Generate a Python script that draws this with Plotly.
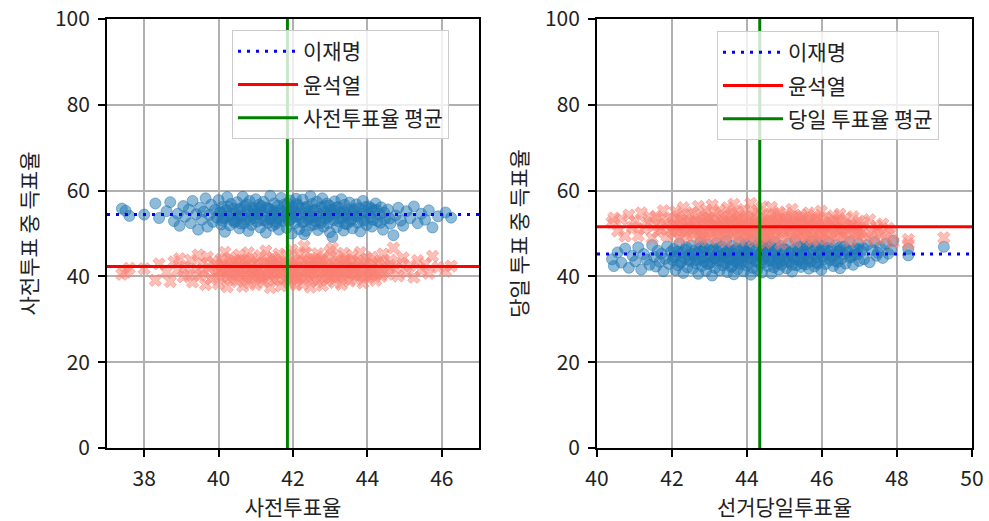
import plotly.graph_objects as go

# ---- early voting (사전투표) : turnout, share for each candidate, per district ----
pre_points = [
    (37.4, 55.8, 40.5), (37.5, 55.3, 41.0), (37.6, 54.1, 41.9),
    (38.0, 54.4, 41.8), (38.3, 57.0, 39.1), (38.4, 53.6, 42.9),
    (38.6, 55.2, 41.0), (38.7, 57.3, 38.8), (38.8, 52.9, 43.4), (38.9, 54.6, 41.5), (38.95, 51.8, 44.1),
    (39.05, 56.4, 39.9), (39.1, 53.9, 42.2), (39.2, 55.6, 40.4), (39.25, 52.4, 43.8), (39.3, 57.6, 38.7),
    (39.4, 54.5, 41.6), (39.45, 50.9, 45.0),
    (39.5, 56.0, 40.2), (39.55, 53.2, 43.0), (39.6, 55.1, 41.0), (39.65, 58.2, 38.1), (39.7, 51.6, 44.5),
    (39.75, 54.3, 41.9), (39.8, 56.7, 39.4), (39.85, 52.7, 43.4), (39.9, 55.5, 40.7), (39.95, 53.7, 42.6),
    (40.0, 57.8, 38.3), (40.03, 54.9, 41.3), (40.07, 52.1, 44.0), (40.1, 56.2, 40.0), (40.13, 53.5, 42.6),
    (40.17, 50.4, 45.6), (40.2, 55.4, 40.8), (40.23, 58.5, 37.6), (40.27, 54.0, 42.1), (40.3, 51.9, 44.3),
    (40.33, 56.9, 39.3), (40.37, 53.1, 43.0), (40.4, 55.8, 40.3), (40.43, 52.6, 43.6), (40.47, 54.6, 41.5),
    (40.5, 57.3, 38.8), (40.53, 53.8, 42.4), (40.56, 51.2, 45.0), (40.59, 55.9, 40.2), (40.62, 54.2, 41.8),
    (40.65, 58.6, 37.7), (40.68, 52.4, 43.7), (40.71, 56.4, 39.7), (40.74, 53.3, 42.9), (40.77, 55.2, 40.9),
    (40.8, 50.6, 45.5), (40.83, 57.6, 38.5), (40.86, 54.7, 41.4), (40.89, 52.0, 44.2), (40.92, 56.0, 40.1),
    (40.95, 53.6, 42.5), (40.98, 55.5, 40.7),
    (41.0, 58.0, 38.1), (41.03, 52.8, 43.3), (41.06, 54.4, 41.7), (41.09, 56.7, 39.4), (41.12, 51.4, 44.8),
    (41.15, 55.0, 41.1), (41.18, 53.1, 43.0), (41.21, 57.4, 38.7), (41.24, 54.0, 42.2), (41.27, 50.2, 45.9),
    (41.3, 56.1, 40.0), (41.33, 52.5, 43.6), (41.36, 55.6, 40.5), (41.39, 58.8, 37.4), (41.42, 53.7, 42.4),
    (41.45, 51.8, 44.4), (41.48, 55.3, 40.8), (41.49, 54.6, 41.5),
    (41.5, 57.0, 39.1), (41.53, 52.2, 43.9), (41.56, 54.9, 41.2), (41.59, 56.5, 39.6), (41.62, 50.9, 45.2),
    (41.65, 53.4, 42.7), (41.68, 58.3, 37.8), (41.71, 55.1, 41.0), (41.74, 52.9, 43.2), (41.77, 56.8, 39.3),
    (41.8, 54.2, 41.9), (41.83, 51.3, 44.9), (41.86, 55.8, 40.3), (41.89, 53.0, 43.1), (41.92, 57.7, 38.4),
    (41.95, 54.5, 41.6), (41.97, 50.0, 46.1), (41.99, 56.2, 39.9), (41.99, 53.8, 42.3),
    (42.02, 55.4, 40.7), (42.05, 52.4, 43.7), (42.08, 58.1, 38.0), (42.11, 54.0, 42.1), (42.14, 56.6, 39.5),
    (42.17, 51.0, 45.1), (42.2, 53.6, 42.5), (42.23, 55.9, 40.2), (42.26, 57.9, 38.2), (42.29, 52.7, 43.4),
    (42.32, 54.8, 41.3), (42.35, 50.6, 45.5), (42.38, 56.3, 39.8), (42.41, 53.2, 42.9), (42.44, 55.2, 40.9),
    (42.47, 58.7, 37.5), (42.49, 51.9, 44.2), (42.3, 49.8, 47.0), (42.45, 54.3, 41.8),
    (42.52, 56.9, 39.2), (42.55, 53.9, 42.2), (42.58, 52.1, 44.0), (42.61, 55.6, 40.5), (42.64, 57.4, 38.7),
    (42.67, 50.8, 45.3), (42.7, 54.6, 41.5), (42.73, 53.0, 43.1), (42.76, 56.1, 40.0), (42.79, 58.2, 37.9),
    (42.82, 51.6, 44.5), (42.85, 55.0, 41.1), (42.88, 53.5, 42.6), (42.91, 57.0, 39.1), (42.94, 52.4, 43.7),
    (42.96, 54.2, 41.9), (42.98, 56.5, 39.6), (42.99, 50.3, 45.8),
    (43.02, 55.5, 40.6), (43.06, 49.2, 46.6), (43.09, 53.1, 43.0), (43.12, 57.5, 38.6), (43.15, 54.4, 41.7),
    (43.18, 51.5, 44.6), (43.21, 56.2, 39.9), (43.24, 52.8, 43.3), (43.27, 55.0, 41.1), (43.3, 58.0, 38.1),
    (43.33, 53.7, 42.4), (43.36, 50.7, 45.4), (43.39, 56.7, 39.4), (43.42, 54.8, 41.3), (43.45, 52.2, 43.9),
    (43.48, 55.7, 40.4),
    (43.52, 57.2, 38.9), (43.56, 53.3, 42.8), (43.6, 51.2, 44.9), (43.63, 55.3, 40.8), (43.67, 54.1, 42.0),
    (43.7, 56.8, 39.3), (43.74, 52.5, 43.6), (43.78, 55.9, 40.2), (43.81, 50.5, 45.6), (43.85, 54.6, 41.5),
    (43.88, 57.6, 38.5), (43.92, 53.0, 43.1), (43.95, 55.1, 41.0), (43.98, 52.0, 44.1),
    (44.03, 56.3, 39.8), (44.08, 53.8, 42.3), (44.12, 51.6, 44.5), (44.17, 55.4, 40.7), (44.22, 57.0, 39.1),
    (44.27, 52.9, 43.2), (44.32, 54.5, 41.6), (44.37, 56.1, 40.0), (44.42, 50.9, 45.2), (44.47, 53.4, 42.7),
    (44.55, 55.6, 40.5), (44.62, 52.3, 43.8), (44.7, 49.6, 46.6), (44.76, 54.2, 41.9), (44.83, 56.0, 40.1),
    (44.9, 53.0, 43.1), (44.96, 51.8, 44.3),
    (45.05, 55.2, 40.9), (45.15, 53.6, 42.5), (45.25, 56.3, 39.8), (45.35, 52.4, 43.7), (45.45, 54.6, 41.5),
    (45.55, 53.2, 42.9), (45.65, 55.4, 40.7), (45.75, 51.4, 44.7), (45.9, 54.0, 42.1),
    (46.1, 54.9, 41.2), (46.25, 53.7, 42.4),
    (40.05, 55.0, 41.2), (40.15, 53.8, 42.4), (40.25, 56.3, 39.9), (40.35, 54.5, 41.6), (40.45, 52.9, 43.2),
    (40.55, 55.6, 40.5), (40.65, 54.0, 42.1), (40.75, 56.8, 39.3), (40.85, 53.2, 42.9), (40.95, 55.2, 40.9),
    (41.05, 54.7, 41.4), (41.15, 56.4, 39.7), (41.25, 53.0, 43.1), (41.35, 55.8, 40.3), (41.45, 54.2, 41.9),
    (41.55, 52.7, 43.4), (41.65, 55.5, 40.6), (41.75, 54.0, 42.1), (41.85, 56.9, 39.2), (41.95, 53.4, 42.7),
    (42.05, 55.1, 41.0), (42.15, 54.4, 41.7), (42.25, 52.6, 43.5), (42.35, 56.0, 40.1), (42.45, 53.7, 42.4),
    (42.55, 55.3, 40.8), (42.65, 54.0, 42.1), (42.75, 52.5, 43.6), (42.85, 56.4, 39.7), (42.95, 53.9, 42.2),
    (43.05, 54.8, 41.3), (43.15, 56.0, 40.1), (43.25, 53.5, 42.6), (43.35, 55.2, 40.9), (43.45, 54.2, 41.9),
    (43.55, 52.9, 43.2), (43.65, 55.7, 40.4), (43.75, 54.0, 42.1), (43.85, 53.1, 43.0), (43.95, 56.2, 39.9),
    (44.05, 54.6, 41.5), (44.15, 53.2, 42.9), (44.25, 55.5, 40.6), (44.35, 52.5, 43.6), (44.45, 54.9, 41.2),
    (40.1, 53.0, 43.1), (40.6, 52.3, 43.8), (41.1, 55.9, 40.2), (41.6, 53.6, 42.5), (42.1, 56.9, 39.2),
    (42.6, 52.9, 43.2), (43.1, 55.4, 40.7), (43.6, 54.5, 41.6), (44.1, 55.9, 40.2), (44.6, 53.5, 42.6),
    (41.4, 53.3, 42.8), (42.9, 54.6, 41.5), (43.4, 52.3, 43.8), (41.9, 55.0, 41.1), (40.9, 54.3, 41.8),
]

# ---- election day (선거당일) : turnout, share for each candidate, per district ----
day_points = [
    (40.4, 44.0, 52.6), (40.45, 42.4, 53.6),
    (40.55, 45.6, 50.6), (40.65, 43.2, 53.3), (40.75, 46.5, 49.4), (40.85, 42.0, 54.3), (40.95, 44.8, 51.5),
    (41.02, 43.5, 52.9), (41.1, 46.8, 49.5), (41.18, 41.6, 54.8), (41.25, 45.2, 51.1), (41.32, 43.9, 52.5),
    (41.4, 42.7, 53.8), (41.47, 47.3, 48.9),
    (41.52, 44.6, 51.8), (41.57, 42.3, 54.0), (41.62, 46.0, 50.4), (41.67, 43.4, 53.1), (41.72, 45.3, 51.0),
    (41.77, 41.2, 55.3), (41.82, 44.1, 52.2), (41.87, 47.0, 49.4), (41.92, 42.9, 53.5), (41.97, 45.7, 50.7),
    (42.02, 43.8, 52.6), (42.05, 46.4, 50.0), (42.09, 41.5, 55.1), (42.12, 44.9, 51.5), (42.16, 42.6, 53.9),
    (42.2, 47.6, 48.8), (42.23, 43.2, 53.3), (42.27, 45.6, 50.8), (42.3, 40.8, 56.0), (42.34, 44.3, 52.1),
    (42.38, 46.8, 49.6), (42.41, 42.1, 54.4), (42.45, 45.0, 51.4), (42.48, 43.6, 52.8),
    (42.52, 47.2, 49.2), (42.55, 41.8, 54.9), (42.58, 44.7, 51.8), (42.61, 46.1, 50.3), (42.64, 43.0, 53.6),
    (42.67, 45.4, 51.0), (42.7, 40.6, 56.3), (42.73, 44.0, 52.5), (42.76, 48.0, 48.4), (42.79, 42.4, 54.2),
    (42.82, 45.8, 50.6), (42.85, 43.5, 53.0), (42.88, 46.6, 49.8), (42.91, 41.3, 55.5), (42.94, 44.5, 52.0),
    (42.97, 47.4, 49.0), (42.99, 42.9, 53.6),
    (43.02, 45.1, 51.4), (43.05, 43.3, 53.2), (43.07, 40.2, 56.6), (43.1, 46.3, 50.1), (43.13, 44.2, 52.3),
    (43.15, 42.0, 54.7), (43.18, 47.8, 48.7), (43.21, 45.6, 50.9), (43.24, 43.7, 52.9), (43.27, 41.4, 55.4),
    (43.3, 44.8, 51.6), (43.33, 46.9, 49.6), (43.36, 42.6, 54.0), (43.39, 45.3, 51.2), (43.42, 43.1, 53.4),
    (43.44, 48.3, 48.2), (43.46, 44.4, 52.1), (43.48, 41.0, 56.0), (43.49, 46.0, 50.5),
    (43.52, 43.9, 52.6), (43.55, 45.8, 50.7), (43.57, 42.2, 54.5), (43.6, 47.1, 49.4), (43.62, 44.6, 51.9),
    (43.65, 40.5, 56.8), (43.67, 45.2, 51.3), (43.7, 43.4, 53.1), (43.72, 46.5, 50.0), (43.75, 41.7, 55.0),
    (43.77, 44.1, 52.4), (43.8, 48.1, 48.5), (43.82, 42.8, 53.8), (43.85, 45.5, 51.0), (43.87, 43.6, 52.9),
    (43.9, 46.8, 49.7), (43.92, 41.2, 55.6), (43.95, 44.9, 51.6), (43.97, 47.5, 49.0), (43.99, 42.5, 54.0),
    (44.02, 45.7, 50.8), (44.05, 43.1, 53.4), (44.07, 46.9, 49.6), (44.1, 40.4, 57.0), (44.12, 44.3, 52.2),
    (44.15, 42.0, 54.6), (44.17, 48.4, 48.2), (44.2, 45.0, 51.5), (44.22, 43.8, 52.7), (44.25, 46.2, 50.3),
    (44.27, 41.5, 55.3), (44.3, 44.7, 51.9), (44.32, 47.7, 48.8), (44.35, 42.9, 53.7), (44.37, 45.4, 51.1),
    (44.4, 40.9, 56.2), (44.42, 44.0, 52.5), (44.45, 46.6, 50.0), (44.47, 43.3, 53.2), (44.49, 48.8, 47.9),
    (44.52, 45.9, 50.6), (44.55, 42.4, 54.2), (44.57, 44.5, 52.0), (44.6, 47.3, 49.3), (44.62, 43.6, 53.0),
    (44.65, 40.7, 56.1), (44.67, 46.1, 50.4), (44.7, 44.9, 51.6), (44.72, 42.1, 54.5), (44.75, 48.0, 48.6),
    (44.77, 45.3, 51.2), (44.8, 43.2, 53.3), (44.82, 46.7, 49.9), (44.85, 41.6, 55.0), (44.87, 44.2, 52.3),
    (44.9, 47.1, 47.6), (44.92, 42.7, 53.8), (44.95, 45.6, 50.9), (44.98, 43.9, 52.6),
    (45.02, 46.3, 50.2), (45.05, 41.9, 54.7), (45.08, 44.6, 51.9), (45.11, 47.6, 49.0), (45.14, 43.4, 53.1),
    (45.17, 45.1, 51.4), (45.2, 41.1, 55.6), (45.23, 46.0, 50.5), (45.26, 44.0, 52.5), (45.29, 48.5, 48.1),
    (45.32, 42.6, 53.9), (45.35, 45.8, 50.7), (45.38, 43.7, 52.8), (45.41, 47.0, 49.5), (45.44, 42.2, 54.3),
    (45.46, 44.8, 51.7), (45.48, 46.6, 49.9), (45.49, 43.0, 53.5),
    (45.52, 45.4, 51.1), (45.56, 42.8, 53.7), (45.59, 47.4, 49.1), (45.62, 44.1, 52.4), (45.65, 41.8, 54.8),
    (45.68, 46.2, 50.3), (45.71, 43.5, 53.0), (45.74, 48.2, 48.3), (45.77, 45.0, 51.5), (45.8, 42.3, 54.2),
    (45.83, 46.9, 49.6), (45.86, 44.4, 52.1), (45.89, 43.0, 53.5), (45.92, 47.8, 48.7), (45.95, 45.7, 50.8),
    (45.98, 41.5, 55.2),
    (46.02, 44.6, 51.9), (46.06, 46.5, 50.0), (46.1, 42.9, 53.6), (46.14, 45.3, 51.2), (46.18, 48.0, 48.5),
    (46.22, 43.8, 52.7), (46.26, 46.2, 50.3), (46.3, 42.4, 54.1), (46.34, 44.9, 51.6), (46.38, 47.3, 49.2),
    (46.42, 43.4, 53.1), (46.45, 45.8, 50.7), (46.48, 41.9, 54.5), (46.49, 46.9, 49.6),
    (46.53, 44.2, 52.3), (46.58, 47.0, 49.5), (46.63, 43.0, 53.5), (46.68, 45.6, 50.9), (46.73, 48.1, 48.4),
    (46.78, 44.7, 51.8), (46.83, 42.7, 53.9), (46.88, 46.4, 50.1), (46.93, 45.1, 51.4), (46.97, 47.6, 48.9),
    (46.99, 43.6, 52.9),
    (47.05, 45.9, 50.6), (47.12, 44.0, 52.5), (47.2, 47.3, 49.2), (47.27, 43.3, 53.2), (47.34, 46.2, 50.3),
    (47.4, 48.0, 48.5), (47.45, 44.8, 51.7), (47.49, 45.5, 51.0),
    (47.55, 46.8, 49.7), (47.62, 44.3, 52.2), (47.7, 47.6, 48.9), (47.77, 45.3, 51.2), (47.84, 46.3, 50.2),
    (47.9, 48.3, 48.0),
    (48.3, 46.4, 48.6), (48.3, 44.9, 47.6),
    (49.25, 46.9, 49.0),
    (42.05, 44.5, 51.9), (42.15, 45.8, 50.7), (42.25, 43.5, 53.0), (42.35, 46.2, 50.3), (42.45, 44.0, 52.5),
    (42.55, 45.2, 51.2), (42.65, 43.8, 52.7), (42.75, 46.5, 50.0), (42.85, 44.6, 51.9), (42.95, 42.9, 53.6),
    (43.05, 45.9, 50.6), (43.15, 44.4, 52.1), (43.25, 46.7, 49.8), (43.35, 43.6, 52.9), (43.45, 45.5, 51.0),
    (43.55, 44.0, 52.5), (43.65, 46.1, 50.4), (43.75, 43.2, 53.3), (43.85, 44.8, 51.7), (43.95, 45.7, 50.8),
    (44.05, 44.3, 52.2), (44.15, 46.4, 50.1), (44.25, 43.5, 53.0), (44.35, 45.2, 51.3), (44.45, 44.6, 51.9),
    (44.55, 46.8, 49.7), (44.65, 43.8, 52.7), (44.75, 45.6, 50.9), (44.85, 44.1, 52.4), (44.95, 46.3, 50.2),
    (45.05, 43.4, 53.1), (45.15, 45.7, 50.8), (45.25, 44.5, 52.0), (45.35, 46.6, 49.9), (45.45, 43.9, 52.6),
    (45.55, 45.1, 51.4), (45.65, 44.2, 52.3), (45.75, 46.4, 50.1), (45.85, 43.3, 53.2), (45.95, 45.4, 51.1),
    (46.05, 44.0, 52.5), (46.15, 46.7, 49.8), (46.25, 44.8, 51.7), (46.35, 43.6, 52.9), (46.45, 45.9, 50.6),
    (46.55, 45.3, 51.2), (46.65, 46.2, 50.3), (46.75, 44.4, 52.1), (46.85, 45.0, 51.5), (46.95, 46.5, 50.0),
    (42.8, 47.0, 49.5), (43.6, 42.4, 54.1), (44.4, 47.2, 49.3), (45.2, 42.7, 53.8), (46.0, 47.1, 49.4),
    (43.2, 44.9, 51.6), (44.0, 45.4, 51.1), (44.8, 42.9, 53.6), (45.6, 47.3, 49.2), (47.1, 46.6, 49.9),
]

pre_turnout = [p[0] for p in pre_points]
pre_lee = [p[1] for p in pre_points]
pre_yoon = [p[2] for p in pre_points]
day_turnout = [p[0] for p in day_points]
day_lee = [p[1] for p in day_points]
day_yoon = [p[2] for p in day_points]

# national reference levels drawn as lines
pre_lee_ref, pre_yoon_ref, pre_turnout_mean = 54.4, 42.3, 41.85
day_lee_ref, day_yoon_ref, day_turnout_mean = 45.2, 51.6, 44.34

pre_xrange = [37, 47]
day_xrange = [40, 50]
yrange = [0, 100]

FONT = "Noto Sans CJK KR"
FS = 21
BLUE_PT = "rgba(31,119,180,0.5)"
RED_PT = "rgba(250,128,114,0.5)"

fig = go.Figure()


def add_panel(xa, ya, turnout, lee, yoon, lee_ref, yoon_ref, tmean, xr, legend, mean_name):
    fig.add_trace(go.Scatter(
        x=turnout, y=lee, mode="markers", xaxis=xa, yaxis=ya, showlegend=False,
        marker=dict(symbol="circle", size=11, color=BLUE_PT,
                    line=dict(color=BLUE_PT, width=1)),
        hoverinfo="skip"))
    fig.add_trace(go.Scatter(
        x=turnout, y=yoon, mode="markers", xaxis=xa, yaxis=ya, showlegend=False,
        marker=dict(symbol="x", size=11, color=RED_PT,
                    line=dict(color=RED_PT, width=1)),
        hoverinfo="skip"))
    fig.add_trace(go.Scatter(
        x=xr, y=[lee_ref, lee_ref], mode="lines", xaxis=xa, yaxis=ya, name="이재명",
        legend=legend, legendgroup=legend + "a",
        line=dict(color="#0000ff", width=3, dash="3px,6px")))
    fig.add_trace(go.Scatter(
        x=xr, y=[yoon_ref, yoon_ref], mode="lines", xaxis=xa, yaxis=ya, name="윤석열",
        legend=legend, legendgroup=legend + "b",
        line=dict(color="#ff0000", width=3)))
    fig.add_trace(go.Scatter(
        x=[tmean, tmean], y=yrange, mode="lines", xaxis=xa, yaxis=ya, name=mean_name,
        legend=legend, legendgroup=legend + "c",
        line=dict(color="#008000", width=3)))


add_panel("x", "y", pre_turnout, pre_lee, pre_yoon, pre_lee_ref, pre_yoon_ref,
          pre_turnout_mean, pre_xrange, "legend", "사전투표율 평균")
add_panel("x2", "y2", day_turnout, day_lee, day_yoon, day_lee_ref, day_yoon_ref,
          day_turnout_mean, day_xrange, "legend2", "당일 투표율 평균")

W, H = 989, 521


def axis_style(**kw):
    d = dict(showline=True, linecolor="black", linewidth=1.7, mirror=True,
             ticks="outside", ticklen=7, tickwidth=1.7, tickcolor="black",
             showgrid=True, gridcolor="#b0b0b0", gridwidth=1.6, zeroline=False,
             tickfont=dict(family=FONT, size=FS, color="#222222"),
             ticklabelstandoff=4, automargin=False)
    d.update(kw)
    return d


legend_common = dict(font=dict(family=FONT, size=FS, color="#222222"),
                      bgcolor="rgba(255,255,255,0.8)", bordercolor="#cccccc", borderwidth=1,
                      xanchor="left", yanchor="top", tracegroupgap=3, itemwidth=60)

fig.update_layout(
    width=W, height=H, margin=dict(l=0, r=0, t=0, b=0),
    paper_bgcolor="white", plot_bgcolor="white",
    font=dict(family=FONT, size=FS, color="#222222"),
    xaxis=axis_style(domain=[107 / W, 479 / W], range=pre_xrange, tickvals=[38, 40, 42, 44, 46],
                     anchor="y",
                     title=dict(text="사전투표율", font=dict(family=FONT, size=FS), standoff=10)),
    yaxis=axis_style(domain=[73 / H, 502 / H], range=yrange, tickvals=[0, 20, 40, 60, 80, 100],
                     anchor="x",
                     title=dict(text="사전투표 중 득표율", font=dict(family=FONT, size=FS), standoff=12)),
    xaxis2=axis_style(domain=[597 / W, 972 / W], range=day_xrange, tickvals=[40, 42, 44, 46, 48, 50],
                      anchor="y2",
                      title=dict(text="선거당일투표율", font=dict(family=FONT, size=FS), standoff=10)),
    yaxis2=axis_style(domain=[73 / H, 502 / H], range=yrange, tickvals=[0, 20, 40, 60, 80, 100],
                      anchor="x2",
                      title=dict(text="당일 투표 중 득표율", font=dict(family=FONT, size=FS), standoff=12)),
    legend=dict(x=232 / W, y=(H - 30) / H, **legend_common),
    legend2=dict(x=717 / W, y=(H - 31) / H, **legend_common),
)

fig.write_html("out.html")
